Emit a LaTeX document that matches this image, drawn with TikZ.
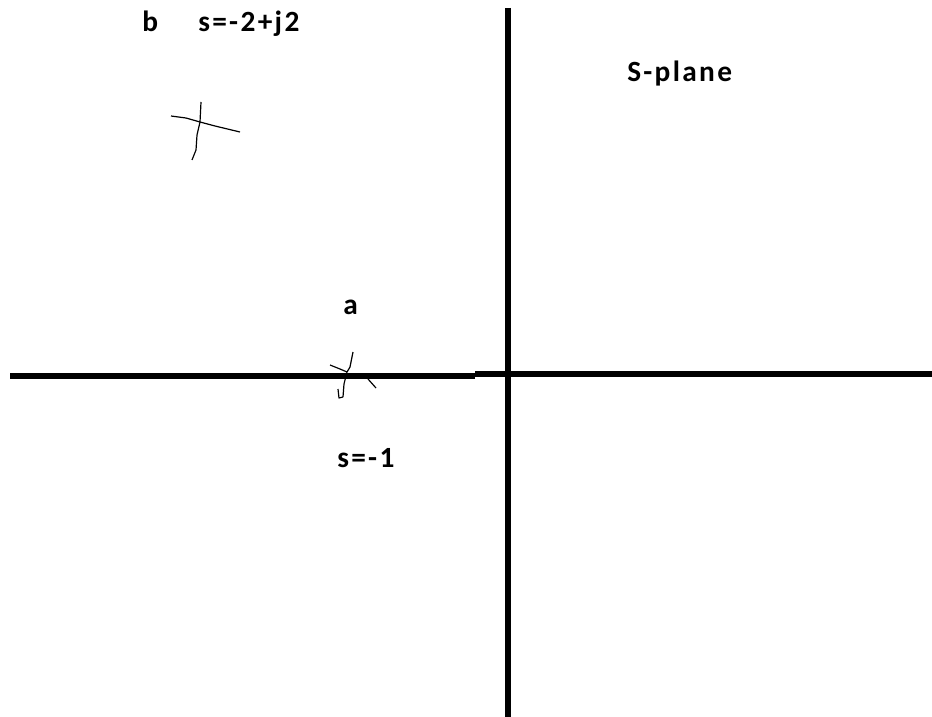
\documentclass[tikz,border=0pt]{standalone}
\usepackage{fontspec}
\setmainfont{Carlito}
\usepackage{tikz}

\begin{document}
\begin{tikzpicture}[
    x=0.75pt, y=-0.75pt,
    axis/.style={line width=5.2pt, black},
    polemark/.style={line width=0.9pt, black, line join=round},
    lbl/.style={font=\bfseries\fontsize{22}{26}\selectfont\addfontfeature{LetterSpace=8}, inner sep=0pt, anchor=base west}
]
\useasboundingbox (0,0) rectangle (932,717);
% axes
\coordinate (west) at (10,376);
\coordinate (mid) at (475,376);
\coordinate (east) at (932,374);
\coordinate (north) at (508,8);
\coordinate (south) at (508,717);
\draw[axis] (west) -- (mid);
\draw[axis] (mid |- east) -- (east);
\draw[axis] (north) -- (south);
% pole b
\draw[polemark] (171,116) -- (186,118) -- (200,122) -- (215,126) -- (240,132);
\draw[polemark] (201,102) -- (200,122) -- (197,135) -- (196,150) -- (192,160);
% pole a
\draw[polemark] (330,365) -- (340,369) -- (347,372);
\draw[polemark] (353,352) -- (350,367) -- (347,372) -- (344,384) -- (343,397);
\draw[polemark] (338,389) -- (339,398) -- (343,397);
\draw[polemark] (368,379) -- (376,388);
% labels
\node[lbl] (blbl) at (142,32) {b};
\node[lbl] (bval) at (198,32) {s=-2+j2};
\node[lbl] (albl) at (343,314) {a};
\node[lbl] (aval) at (337,467) {s=-1};
\node[lbl] (plane) at (627,82) {S-plane};
\end{tikzpicture}
\end{document}
